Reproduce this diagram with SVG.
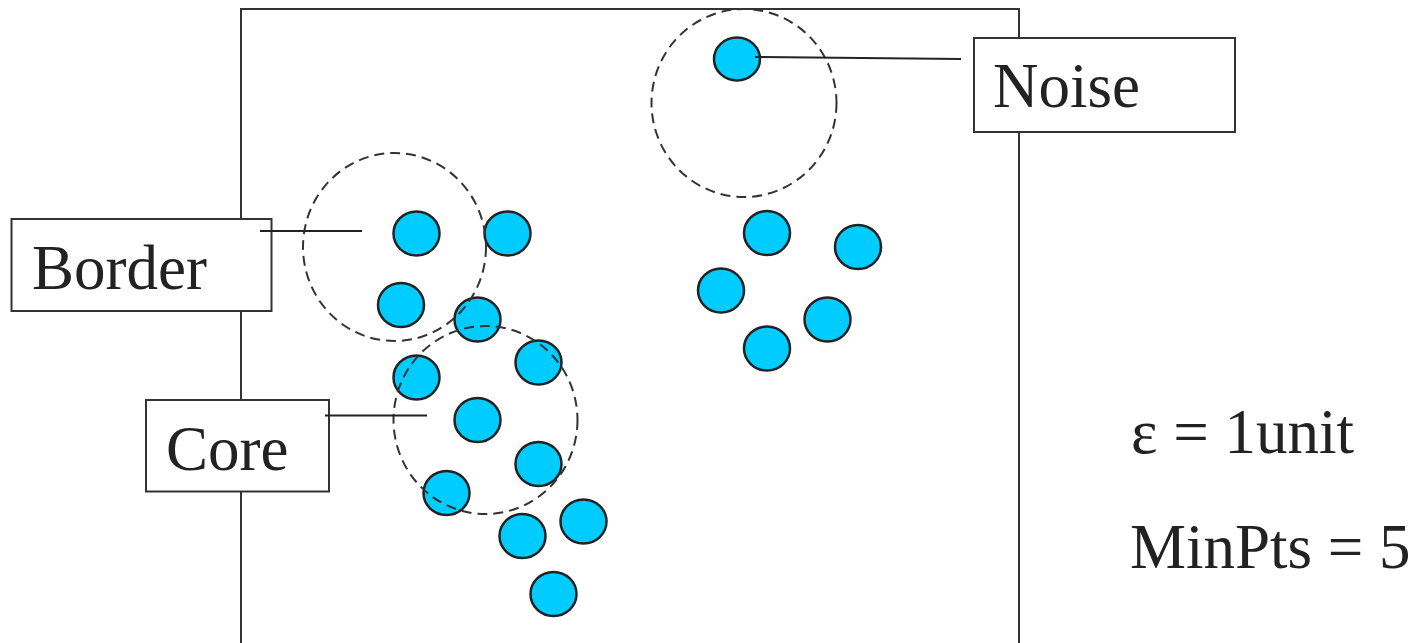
<svg xmlns="http://www.w3.org/2000/svg" width="1422" height="643" viewBox="0 0 1422 643">
<style>
.frame{fill:none;stroke:#333;stroke-width:2}
.box{fill:#fff;stroke:#333;stroke-width:2}
.pt{fill:#00CCFF;stroke:#222;stroke-width:2.5}
.eps{fill:none;stroke:#333;stroke-width:2;stroke-dasharray:10 6}
.lead{stroke:#222;stroke-width:2;fill:none}
.lbl{font-family:"Liberation Serif","Times New Roman",serif;font-size:63px;fill:#222}
</style>
<rect width="1422" height="643" fill="#fff"/>
<rect id="space" class="frame" x="241" y="9" width="778" height="680"/>
<g id="points">
<ellipse class="pt" cx="737" cy="59" rx="23" ry="21.5"/>
<ellipse class="pt" cx="416.5" cy="233.5" rx="23" ry="22"/>
<ellipse class="pt" cx="507.5" cy="233.5" rx="23" ry="22"/>
<ellipse class="pt" cx="401" cy="305" rx="23" ry="22"/>
<ellipse class="pt" cx="477.5" cy="319.5" rx="23" ry="22"/>
<ellipse class="pt" cx="416.5" cy="377.5" rx="23" ry="22"/>
<ellipse class="pt" cx="538.5" cy="362.5" rx="23" ry="22"/>
<ellipse class="pt" cx="477.5" cy="420" rx="23" ry="22"/>
<ellipse class="pt" cx="538.5" cy="464" rx="23" ry="22"/>
<ellipse class="pt" cx="446.5" cy="493" rx="23" ry="22"/>
<ellipse class="pt" cx="522.5" cy="536" rx="23" ry="22"/>
<ellipse class="pt" cx="583.5" cy="521.5" rx="23" ry="22"/>
<ellipse class="pt" cx="553.5" cy="594" rx="23" ry="22"/>
<ellipse class="pt" cx="767" cy="233" rx="23" ry="22"/>
<ellipse class="pt" cx="858" cy="247" rx="23" ry="22"/>
<ellipse class="pt" cx="721" cy="290.5" rx="23" ry="22"/>
<ellipse class="pt" cx="827.5" cy="319.5" rx="23" ry="22"/>
<ellipse class="pt" cx="767" cy="348.5" rx="23" ry="22"/>
</g>
<g id="neighborhoods">
<ellipse class="eps" cx="744" cy="103" rx="92.5" ry="94"/>
<ellipse class="eps" cx="394.5" cy="247" rx="91.5" ry="94"/>
<ellipse class="eps" cx="485.5" cy="420" rx="92" ry="94"/>
</g>
<g id="noise-label">
<rect class="box" x="974" y="38" width="261" height="94"/>
<text class="lbl" x="993" y="107">Noise</text>
</g>
<g id="border-label">
<rect class="box" x="11.5" y="219" width="260" height="92"/>
<text class="lbl" x="32" y="289">Border</text>
</g>
<g id="core-label">
<rect class="box" x="146" y="400" width="183" height="91.5"/>
<text class="lbl" x="166" y="470">Core</text>
</g>
<g id="connectors">
<line class="lead" x1="755" y1="57" x2="961" y2="59"/>
<line class="lead" x1="260" y1="231" x2="362" y2="231"/>
<line class="lead" x1="325" y1="415.5" x2="427" y2="415.5"/>
</g>
<g id="params">
<text class="lbl" x="1131" y="453">ε = 1unit</text>
<text class="lbl" x="1130" y="568">MinPts = 5</text>
</g>
</svg>
